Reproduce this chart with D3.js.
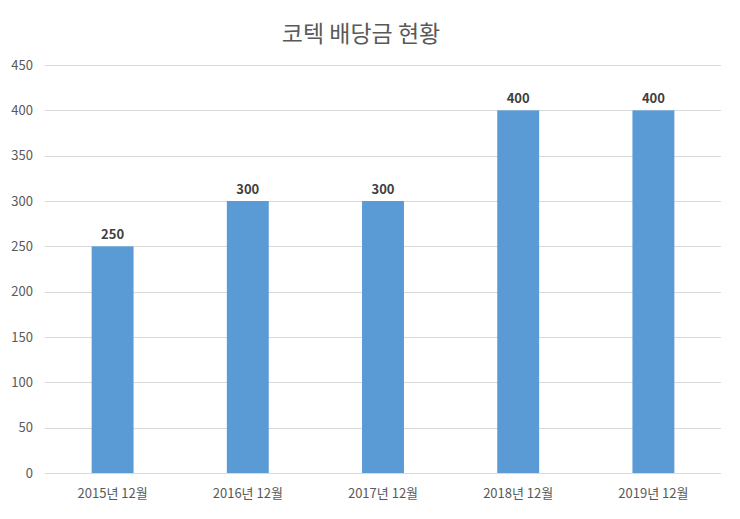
<!DOCTYPE html>
<html>
<head>
<meta charset="utf-8">
<script src="https://cdn.jsdelivr.net/npm/d3@7"></script>
<style>
  body { margin: 0; background: #fff; }
  text { font-family: "Noto Sans CJK KR", "Noto Sans", sans-serif; }
</style>
</head>
<body>
<div id="chart"></div>
<script>
// 데이터
const categories = ["2015년 12월", "2016년 12월", "2017년 12월", "2018년 12월", "2019년 12월"];
const dividends = [250, 300, 300, 400, 400];
const yTicks = [0, 50, 100, 150, 200, 250, 300, 350, 400, 450];

const width = 740;
const height = 519;
const margin = { top: 65, right: 19, bottom: 46, left: 45 };

const svg = d3.select("#chart")
    .append("svg")
    .attr("width", width)
    .attr("height", height);

const x = d3.scaleBand()
    .domain(categories)
    .range([margin.left, width - margin.right])
    .paddingInner(0.69)
    .paddingOuter(0.345);

const y = d3.scaleLinear()
    .domain([0, 450])
    .range([height - margin.bottom, margin.top]);

// 그리드
svg.append("g")
    .selectAll("line")
    .data(yTicks)
    .enter().append("line")
    .attr("x1", margin.left)
    .attr("x2", width - margin.right)
    .attr("y1", d => Math.round(y(d)) + 0.5)
    .attr("y2", d => Math.round(y(d)) + 0.5)
    .attr("stroke", "#d9d9d9")
    .attr("stroke-width", 1);

// Y축 라벨
const yAxis = svg.append("g")
    .attr("transform", `translate(${margin.left - 12}, 0)`)
    .call(d3.axisLeft(y).tickValues(yTicks).tickSize(0).tickPadding(0));
yAxis.select(".domain").remove();
yAxis.selectAll("text")
    .attr("fill", "#595959")
    .style("font-size", "13px");

// 막대
svg.append("g")
    .selectAll("rect")
    .data(dividends)
    .enter().append("rect")
    .attr("x", (d, i) => x(categories[i]))
    .attr("y", d => y(d))
    .attr("width", x.bandwidth())
    .attr("height", d => y(0) - y(d))
    .attr("fill", "#5b9bd5");

// 값 라벨
svg.append("g")
    .selectAll("text")
    .data(dividends)
    .enter().append("text")
    .attr("x", (d, i) => x(categories[i]) + x.bandwidth() / 2)
    .attr("y", d => y(d) - 7)
    .attr("text-anchor", "middle")
    .attr("fill", "#404040")
    .style("font-size", "13px")
    .style("font-weight", "bold")
    .text(d => d);

// X축 라벨
const xAxis = svg.append("g")
    .attr("transform", `translate(0, ${height - margin.bottom})`)
    .call(d3.axisBottom(x).tickSize(0).tickPadding(16));
xAxis.select(".domain").remove();
xAxis.selectAll("text")
    .attr("fill", "#595959")
    .style("font-size", "13px");

// 제목
svg.append("text")
    .attr("x", width / 2 - 9)
    .attr("y", 42)
    .attr("text-anchor", "middle")
    .attr("fill", "#595959")
    .style("font-size", "23px")
    .text("코텍 배당금 현황");
</script>
</body>
</html>
